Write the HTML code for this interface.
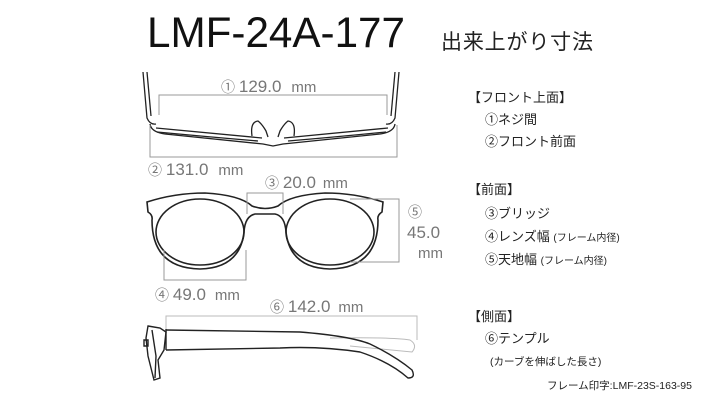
<!DOCTYPE html>
<html><head><meta charset="utf-8"><style>
html,body{margin:0;padding:0;background:#fff;width:714px;height:400px;overflow:hidden}
svg{display:block}
.t{font-family:"Liberation Sans","Noto Sans CJK JP",sans-serif}
</style></head><body>
<svg width="714" height="400" viewBox="0 0 714 400" xmlns="http://www.w3.org/2000/svg">
<g class="t">
<text x="147" y="47" font-size="43" fill="#111" textLength="258" lengthAdjust="spacingAndGlyphs">LMF-24A-177</text>
<text x="441" y="49" font-size="21" fill="#222" textLength="152" font-family="Noto Sans CJK JP,sans-serif">出来上がり寸法</text>
</g>

<!-- top view -->
<g fill="none" stroke="#222" stroke-width="1.3">
<path d="M143 72 L147 118 Q150 125 156 124"/>
<path d="M147 72 L151 116"/>
<path d="M399 72 L395 118 Q392 125 386 124"/>
<path d="M395 72 L391 116"/>
<path d="M150 124 Q151 132 165 134 Q215 139 263 144 L273 146 L283 144 Q330 139 380 134 Q394 132 395 124"/>
<path d="M156 128 Q210 133 262 138 M284 138 Q335 133 388 128"/>
<path d="M157 132 Q210 137 258 141 M288 141 Q336 137 386 132"/>
<path d="M252 136 Q250 122 258 121 Q262 124 266 131 L268 137"/>
<path d="M294 136 Q296 122 288 121 Q284 124 280 131 L278 137"/>
</g>
<g fill="none" stroke="#999" stroke-width="1">
<path d="M159 115 V95 H387 V115"/>
<path d="M150 125 V157 H397 V125"/>
</g>

<!-- front view -->
<g fill="none" stroke="#222" stroke-width="1.6">
<path d="M147 202 Q175 193 205 193 Q240 195 252 206 Q265 211 278 206 Q290 195 325 193 Q355 193 383 202 L382 212 Q377 215 378 220 Q378 268 330 269 Q290 268 286 232 Q285 216 275 214 L255 214 Q245 216 244 232 Q240 268 200 269 Q152 268 152 220 Q153 215 148 212 Z"/>
<ellipse cx="200" cy="232" rx="44" ry="33"/>
<ellipse cx="330" cy="232" rx="44" ry="33"/>
</g>
<g fill="none" stroke="#999" stroke-width="1">
<path d="M247 214 V193 H283 V214"/>
<path d="M164 250 V280 H246 V250"/>
<path d="M350 199 H399 V262 H350"/>
</g>

<!-- side view -->
<g fill="none" stroke="#bbb" stroke-width="1">
<path d="M166 340 V316 H417 V340"/>
<path d="M330 338 Q390 337 410 340 Q418 345 412 352 Q390 350 350 346"/>
</g>
<g fill="none" stroke="#222" stroke-width="1.4">
<path d="M166 330 L300 332 Q350 336 370 344 Q395 356 412 370 Q416 378 408 378 Q390 362 360 352 Q320 346 280 348 L166 350"/>
<path d="M166 329 V350"/>
<path d="M148 326 L160 328 L166 332 L164 350 L158 360 L160 378 L154 380 L148 356 L146 338 Z"/>
<path d="M152 330 L156 356 L155 378"/>
<path d="M144 340 H148 V346 H144 Z"/>
</g>

<!-- dimension labels -->
<g class="t" fill="#777">
<text x="221" y="92" font-size="14">① <tspan font-size="17">129.0</tspan>  <tspan font-size="15" dx="6">mm</tspan></text>
<text x="148" y="175" font-size="14">② <tspan font-size="17">131.0</tspan>  <tspan font-size="15" dx="6">mm</tspan></text>
<text x="265" y="188" font-size="14">③ <tspan font-size="17">20.0</tspan> <tspan font-size="15" dx="3">mm</tspan></text>
<text x="155" y="300" font-size="14">④ <tspan font-size="17">49.0</tspan>  <tspan font-size="15" dx="5">mm</tspan></text>
<text x="408" y="217" font-size="14">⑤</text>
<text x="407" y="238" font-size="17">45.0</text>
<text x="418" y="258" font-size="15">mm</text>
<text x="270" y="312" font-size="14">⑥ <tspan font-size="17">142.0</tspan> <tspan font-size="15" dx="4">mm</tspan></text>
</g>

<!-- right texts -->
<g class="t" fill="#222" font-family="Noto Sans CJK JP,sans-serif">
<text x="468" y="102" font-size="13">【フロント上面】</text>
<text x="485" y="124" font-size="13">①ネジ間</text>
<text x="485" y="146" font-size="13">②フロント前面</text>
<text x="468" y="194" font-size="13">【前面】</text>
<text x="485" y="218" font-size="13">③ブリッジ</text>
<text x="485" y="241" font-size="13">④レンズ幅 <tspan font-size="10">(フレーム内径)</tspan></text>
<text x="485" y="264" font-size="13">⑤天地幅 <tspan font-size="10">(フレーム内径)</tspan></text>
<text x="468" y="321" font-size="13">【側面】</text>
<text x="485" y="343" font-size="13">⑥テンプル</text>
<text x="490" y="365" font-size="10.5">(カーブを伸ばした長さ)</text>
<text x="547" y="389" font-size="10.5">フレーム印字:LMF-23S-163-95</text>
</g>
</svg>
</body></html>
